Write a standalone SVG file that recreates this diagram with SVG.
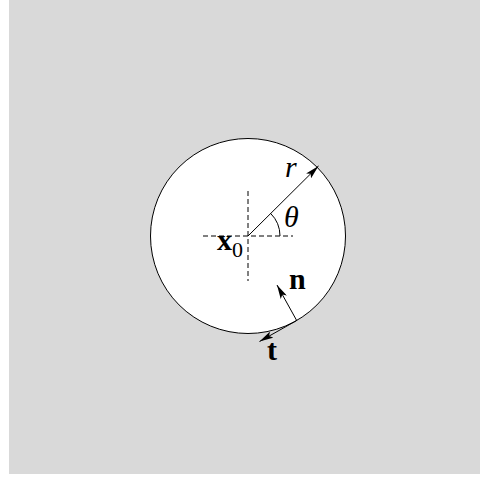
<svg xmlns="http://www.w3.org/2000/svg" width="480" height="480" viewBox="0 0 480 480">
<style>
.lbl{font-family:"Liberation Serif","Times New Roman",serif;font-size:30px;fill:#000}
.b{font-weight:bold}
.i{font-style:italic}
.ln{stroke:#000;stroke-width:1;fill:none}
.dash{stroke:#000;stroke-width:1;stroke-dasharray:5 3;fill:none}
</style>
<defs>
<marker id="ah" viewBox="0 0 14 7" refX="14" refY="3.5" markerWidth="14" markerHeight="7" markerUnits="userSpaceOnUse" orient="auto">
<path d="M0,0 L14,3.5 L0,7 L3,3.5 Z" fill="#000"/>
</marker>
</defs>
<rect x="9" y="0" width="471" height="474" fill="#d9d9d9"/>
<g id="circle">
<circle cx="248" cy="236" r="97.5" fill="#fff" stroke="#000" stroke-width="1"/>
</g>
<g id="axes">
<line class="dash" x1="203" y1="236" x2="293" y2="236"/>
<line class="dash" x1="248" y1="191" x2="248" y2="281"/>
<path class="ln" d="M280,236 A32,32 0 0 0 270.6,213.4"/>
</g>
<g id="connectors">
<line class="ln" x1="248" y1="236" x2="318.5" y2="166" marker-end="url(#ah)"/>
<line class="ln" x1="296.7" y1="320.5" x2="277" y2="285" marker-end="url(#ah)"/>
<line class="ln" x1="296.7" y1="320.5" x2="259.5" y2="341.5" marker-end="url(#ah)"/>
</g>
<g id="labels">
<text class="lbl i" x="285" y="177">r</text>
<text class="lbl i" x="284" y="227">θ</text>
<text class="lbl b" x="217" y="250">x</text>
<text class="lbl" x="232" y="257" style="font-size:22px">0</text>
<text class="lbl b" x="289" y="289">n</text>
<text class="lbl b" x="267" y="360">t</text>
</g>
</svg>
